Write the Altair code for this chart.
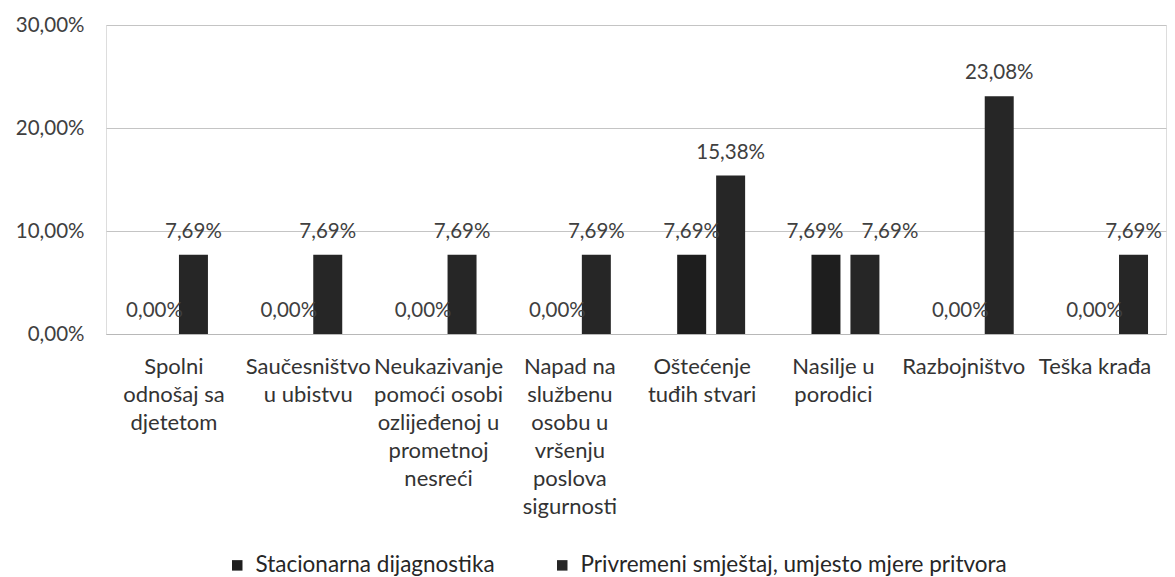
import altair as alt
import pandas as pd

categories = [
    "Spolni|odnošaj sa|djetetom",
    "Saučesništvo|u ubistvu",
    "Neukazivanje|pomoći osobi|ozlijeđenoj u|prometnoj|nesreći",
    "Napad na|službenu|osobu u|vršenju|poslova|sigurnosti",
    "Oštećenje|tuđih stvari",
    "Nasilje u|porodici",
    "Razbojništvo",
    "Teška krađa",
]
series = ["Stacionarna dijagnostika", "Privremeni smještaj, umjesto mjere pritvora"]
stacionarna = [0.00, 0.00, 0.00, 0.00, 7.69, 7.69, 0.00, 0.00]
privremeni = [7.69, 7.69, 7.69, 7.69, 15.38, 7.69, 23.08, 7.69]
y_ticks = [0, 10, 20, 30]

rows = []
for s, vals in zip(series, [stacionarna, privremeni]):
    for c, v in zip(categories, vals):
        rows.append({"cat": c, "series": s, "value": v,
                     "label": f"{v:.2f}".replace(".", ",") + "%"})
df = pd.DataFrame(rows)

FONT = "Lato"
TXT = "#404040"

label_offset = {
    "condition": [
        {"test": f"datum.value == '{categories[7]}'", "value": -19},
        {"test": f"datum.value == '{categories[6]}'", "value": -16},
        {"test": f"datum.value == '{categories[5]}'", "value": -12},
        {"test": f"datum.value == '{categories[4]}'", "value": -9},
        {"test": f"datum.value == '{categories[3]}'", "value": -7},
        {"test": f"datum.value == '{categories[2]}'", "value": -4},
    ],
    "value": 0,
}

x_enc = alt.X("cat:N", sort=categories, title=None,
              scale=alt.Scale(paddingInner=0.494, paddingOuter=0.1935, align=0.654),
              axis=alt.Axis(labelExpr="split(datum.label, '|')", labelAngle=0,
                            labelFont=FONT, labelFontSize=22, labelColor="#333333",
                            labelLineHeight=28, labelPadding=22, labelLimit=400,
                            labelOffset=label_offset,
                            ticks=False, domain=True, domainColor="#b8b8b8",
                            grid=False, labelBaseline="top"))
xo_enc = alt.XOffset("series:N", sort=series, scale=alt.Scale(paddingInner=0.256))
y_enc = alt.Y("value:Q", title=None,
              scale=alt.Scale(domain=[0, 30], nice=False),
              axis=alt.Axis(values=y_ticks,
                            labelExpr="replace(format(datum.value, '.2f'), '.', ',') + '%'",
                            labelFont=FONT, labelFontSize=20.5, labelColor=TXT,
                            labelPadding=22, ticks=False, domain=False,
                            grid=True, gridColor="#c4c4c4", gridWidth=1))

base = alt.Chart(df).encode(x=x_enc, xOffset=xo_enc, y=y_enc)

bars = base.mark_bar().encode(
    color=alt.Color("series:N", sort=series,
                    scale=alt.Scale(domain=series, range=["#1e1e1e", "#262626"]),
                    legend=alt.Legend(title=None, orient="none", direction="horizontal",
                                      legendX=120, legendY=529,
                                      symbolType="square", symbolSize=110,
                                      symbolStrokeWidth=0,
                                      labelFont=FONT, labelFontSize=22.5, labelColor="#262626",
                                      labelLimit=600, columnPadding=56, labelOffset=7))
)

overlap_cat = categories[5]
text_kw = dict(font=FONT, fontSize=20.5, color=TXT, baseline="middle", dy=-23)

texts = base.mark_text(**text_kw).encode(text="label:N").transform_filter(
    alt.datum.cat != overlap_cat)
texts_a = base.mark_text(dx=-11, **text_kw).encode(text="label:N").transform_filter(
    (alt.datum.cat == overlap_cat) & (alt.datum.series == series[0]))
texts_b = base.mark_text(dx=25, **text_kw).encode(text="label:N").transform_filter(
    (alt.datum.cat == overlap_cat) & (alt.datum.series == series[1]))

chart = (bars + texts + texts_a + texts_b).properties(
    width=1060, height=309,
    autosize=alt.AutoSizeParams(type="none"),
    padding={"left": 98, "top": 17, "right": 1, "bottom": 243},
).configure_view(stroke=None).configure(background="white")

chart.save("out.html", embed_options={"renderer": "svg", "actions": False})
